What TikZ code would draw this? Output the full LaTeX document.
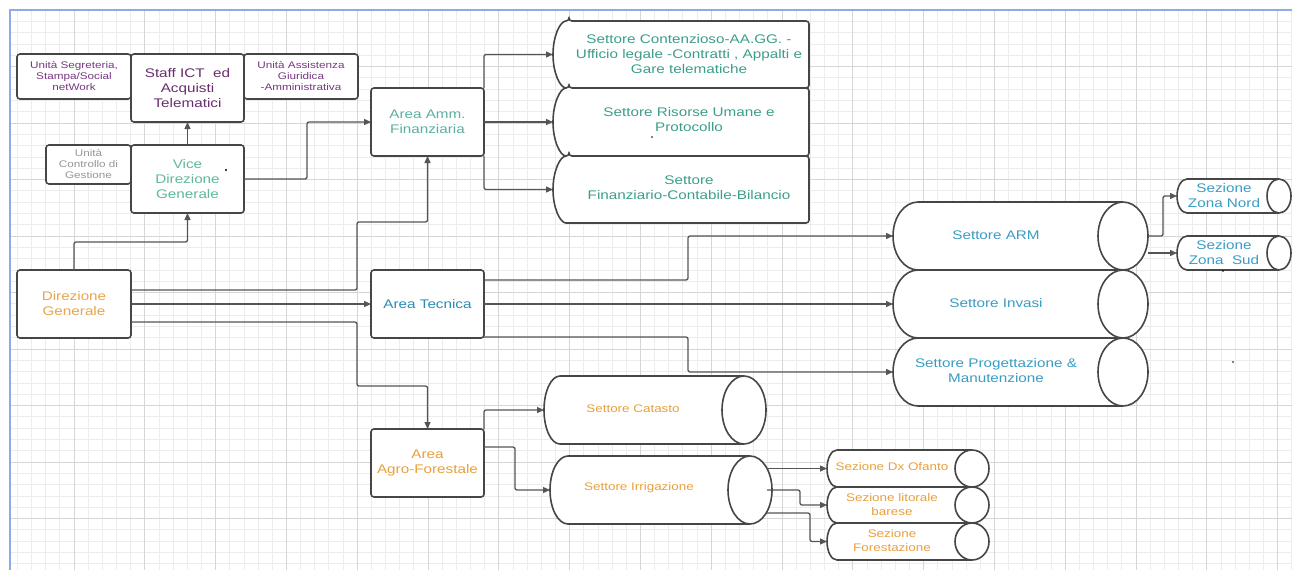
\documentclass[tikz,border=0pt]{standalone}
\usepackage{fontspec}
\setmainfont{Liberation Sans}[FakeStretch=1.22]
\usetikzlibrary{arrows.meta,calc}
\definecolor{boxc}{RGB}{70,70,70}
\definecolor{linec}{RGB}{85,85,85}
\definecolor{gridmin}{RGB}{236,236,236}
\definecolor{gridmaj}{RGB}{214,214,214}
\definecolor{framec}{RGB}{140,172,232}
\definecolor{purp}{RGB}{105,45,110}
\definecolor{purps}{RGB}{120,55,130}
\definecolor{grayt}{RGB}{150,150,150}
\definecolor{mint}{RGB}{95,185,155}
\definecolor{tealt}{RGB}{60,158,138}
\definecolor{tealA}{RGB}{90,176,160}
\definecolor{orng}{RGB}{232,165,75}
\definecolor{blut}{RGB}{40,140,180}
\definecolor{blus}{RGB}{58,156,196}
\definecolor{agro}{RGB}{232,160,60}
\newcommand\fsmain{\fontsize{12.5}{15}\selectfont}
\newcommand\fssmall{\fontsize{9.6}{11}\selectfont}
\newcommand\fsmid{\fontsize{11}{14}\selectfont}
% cylinder outline: node, left rx, right rx, ry
\newcommand\cylshape[4]{%
 \draw[shp] ([xshift=#2]#1.north west) -- ([xshift=-#3]#1.north east)
   arc[start angle=90,end angle=-90,x radius=#3,y radius=#4]
   -- ([xshift=#2]#1.south west)
   arc[start angle=270,end angle=90,x radius=#2,y radius=#4] -- cycle;
 \draw[shp] ([xshift=-#3]#1.north east) arc[start angle=90,end angle=270,x radius=#3,y radius=#4];}
% box with left bulge: node, rx, ry
\newcommand\bulgebox[3]{%
 \draw[shp,rounded corners=3pt] ([xshift=#2]#1.north west) -- (#1.north east) -- (#1.south east)
   -- ([xshift=#2]#1.south west)
   arc[start angle=270,end angle=90,x radius=#2,y radius=#3] -- cycle;}
\begin{document}
\begin{tikzpicture}[x=1pt,y=-1pt,
  box/.style={draw=boxc,line width=1.6pt,rounded corners=3pt,fill=white,inner sep=2pt,outer sep=0pt,align=center,font=\fsmain},
  ghost/.style={inner sep=0pt,outer sep=0pt},
  shp/.style={draw=boxc,line width=1.6pt,fill=white},
  tx/.style={inner sep=0pt,align=center,font=\fsmain},
  arr/.style={draw=linec,line width=1.3pt,rounded corners=2pt,-{Triangle[length=7pt,width=6pt]}},
  gmin/.style={draw=gridmin,line width=0.8pt},
  gmaj/.style={draw=gridmaj,line width=0.9pt}]
\useasboundingbox (0,0) rectangle (1292,570);
\fill[white] (0,0) rectangle (1292,570);
% grid
\foreach \i in {1,...,91} \draw[gmin] (3.2+14.16*\i,10) -- (3.2+14.16*\i,570);
\foreach \j in {1,...,49} \draw[gmin] (9,10+11.3*\j) -- (1292,10+11.3*\j);
\foreach \i in {5,10,...,90} \draw[gmaj] (3.2+14.16*\i,10) -- (3.2+14.16*\i,570);
\foreach \j in {5,10,...,45} \draw[gmaj] (9,10+11.3*\j) -- (1292,10+11.3*\j);
\draw[framec,line width=2pt] (9.5,570) -- (9.5,10) -- (1292,10);

% rectangular boxes
\node[box,minimum width=114pt,minimum height=45pt,font=\fssmall,text=purps] (seg) at (74,76.5) {Unità Segreteria,\\Stampa/Social\\netWork};
\node[box,minimum width=113pt,minimum height=68pt,text=purp] (staff) at (187.5,88) {Staff ICT\ \ ed\\Acquisti\\Telematici};
\node[box,minimum width=114pt,minimum height=45pt,font=\fssmall,text=purps] (ass) at (301,76.5) {Unità Assistenza\\Giuridica\\-Amministrativa};
\node[box,minimum width=85pt,minimum height=39pt,font=\fssmall,text=grayt] (ctrl) at (88.5,164.5) {Unità\\Controllo di\\Gestione};
\node[box,minimum width=113pt,minimum height=68pt,text=mint] (vice) at (187.5,179) {Vice\\Direzione\\Generale};
\node[box,minimum width=113pt,minimum height=68pt,text=tealA] (amm) at (427.5,122) {Area Amm.\\Finanziaria};
\node[box,minimum width=114pt,minimum height=68pt,text=orng] (dir) at (74,304) {Direzione\\Generale};
\node[box,minimum width=113pt,minimum height=68pt,text=blut] (tec) at (427.5,304) {Area Tecnica};
\node[box,minimum width=113pt,minimum height=68pt,text=agro] (agrof) at (427.5,463) {Area\\Agro-Forestale};

% settori amministrativi (box with left bulge)
\node[ghost,minimum width=256pt,minimum height=67pt] (s1) at (681,54.5) {};
\node[ghost,minimum width=256pt,minimum height=68pt] (s2) at (681,122) {};
\node[ghost,minimum width=256pt,minimum height=67pt] (s3) at (681,189.5) {};
\bulgebox{s1}{16pt}{33.5pt}
\bulgebox{s2}{16pt}{34pt}
\bulgebox{s3}{16pt}{33.5pt}
\node[tx,text=tealt] (s1t) at (689,54.5) {Settore Contenzioso-AA.GG. -\\Ufficio legale -Contratti , Appalti e\\Gare telematiche};
\node[tx,text=tealt] (s2t) at (689,120) {Settore Risorse Umane e\\Protocollo};
\node[tx,text=tealt] (s3t) at (689,188) {Settore\\Finanziario-Contabile-Bilancio};

% cylinders
\node[ghost,minimum width=255pt,minimum height=68pt] (arm) at (1020.5,236) {};
\node[ghost,minimum width=255pt,minimum height=68pt] (inv) at (1020.5,304) {};
\node[ghost,minimum width=255pt,minimum height=68pt] (prog) at (1020.5,372) {};
\node[ghost,minimum width=114pt,minimum height=34pt] (nord) at (1234,196) {};
\node[ghost,minimum width=114pt,minimum height=34pt] (sud) at (1234,253) {};
\node[ghost,minimum width=222pt,minimum height=68pt] (cat) at (655,410) {};
\node[ghost,minimum width=222pt,minimum height=68pt] (irr) at (661,490) {};
\node[ghost,minimum width=162pt,minimum height=37pt] (ofa) at (908,468.5) {};
\node[ghost,minimum width=162pt,minimum height=36pt] (lit) at (908,505) {};
\node[ghost,minimum width=162pt,minimum height=37pt] (fore) at (908,541.5) {};
\cylshape{arm}{25pt}{25pt}{34pt}
\cylshape{inv}{25pt}{25pt}{34pt}
\cylshape{prog}{25pt}{25pt}{34pt}
\cylshape{nord}{10pt}{12pt}{17pt}
\cylshape{sud}{10pt}{12pt}{17pt}
\cylshape{cat}{16pt}{22pt}{34pt}
\cylshape{irr}{18pt}{22pt}{34pt}
\cylshape{ofa}{10pt}{17pt}{18.5pt}
\cylshape{lit}{10pt}{17pt}{18pt}
\cylshape{fore}{10pt}{17pt}{18.5pt}
\node[tx,text=blus] (armt) at (996,235) {Settore ARM};
\node[tx,text=blus] (invt) at (996,303) {Settore Invasi};
\node[tx,text=blus] (progt) at (996,371) {Settore Progettazione \&\\Manutenzione};
\node[tx,text=blus] (nordt) at (1224,196) {Sezione\\Zona Nord};
\node[tx,text=blus] (sudt) at (1224,253) {Sezione\\Zona\ \ Sud};
\node[tx,font=\fsmid,text=agro] (catt) at (633,409) {Settore Catasto};
\node[tx,font=\fsmid,text=agro] (irrt) at (639,488) {Settore Irrigazione};
\node[tx,font=\fsmid,text=agro] (ofat) at (892,467) {Sezione Dx Ofanto};
\node[tx,font=\fsmid,text=agro] (litt) at (892,505) {Sezione litorale\\barese};
\node[tx,font=\fsmid,text=agro] (foret) at (892,541) {Sezione\\Forestazione};

% stray dots
\fill (226,170) circle (1.1pt);
\fill (652,137) circle (0.9pt);
\fill (1223,271) circle (0.9pt);
\fill (1233,362) circle (0.9pt);

% connectors
\draw[arr] (dir.north) -- ++(0,-28) -| (vice.south);
\draw[arr] (vice.north) -- (staff.south);
\draw[arr] (vice.east) -- ++(63,0) |- (amm.west);
\draw[arr] ([yshift=14pt]dir.east) -- ++(226,0) -- ++(0,-68) -| (amm.south);
\draw[arr] (dir.east) -- (tec.west);
\draw[arr] ([yshift=-18pt]dir.east) -- ++(226,0) -- ++(0,64) -| (agrof.north);
\draw[arr] (amm.north east) |- (s1.west);
\draw[arr] (amm.east) -- (s2.west);
\draw[arr] (amm.south east) |- (s3.west);
\draw[arr] ([yshift=24pt]tec.east) -- ++(204,0) |- (arm.west);
\draw[arr] (tec.east) -- (inv.west);
\draw[arr] ([yshift=-33pt]tec.east) -- ++(204,0) |- (prog.west);
\draw[arr] (arm.east) -- ++(15,0) |- (nord.west);
\draw[arr] (arm.east |- sud.west) -- (sud.west);
\draw[arr] (agrof.north east) |- (cat.west);
\draw[arr] ([yshift=-18pt]agrof.north east) -- ++(31,0) |- (irr.west);
\draw[arr] ([xshift=-5pt]irr.east |- ofa.west) -- (ofa.west);
\draw[arr] ([xshift=-5pt]irr.east) -- ++(33,0) |- (lit.west);
\draw[arr] ([xshift=-5pt,yshift=-23pt]irr.east) -- ++(43,0) |- (fore.west);
\end{tikzpicture}
\end{document}
